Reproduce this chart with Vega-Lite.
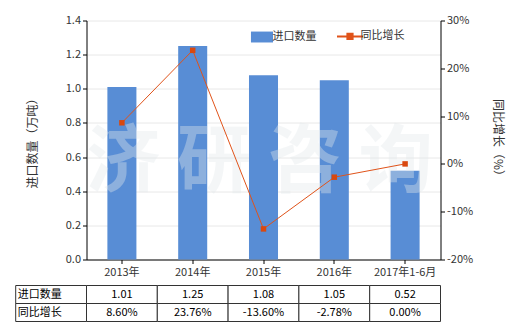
{
  "$schema": "https://vega.github.io/schema/vega-lite/v6.json",
  "padding": {"left": 14.5, "top": 14.5, "right": 5, "bottom": 5},
  "bounds": "flush",
  "spacing": 26,
  "config": {
    "font": "Noto Sans CJK SC",
    "view": {"stroke": null},
    "axis": {"labelFontSize": 11, "labelColor": "#333", "titleFontSize": 12, "titleColor": "#333", "titleFontWeight": "normal", "domainColor": "#000", "tickColor": "#000", "tickSize": 4}
  },
  "vconcat": [
    {
      "width": 354,
      "height": 239,
      "data": {"values": [
        {"year": "2013年", "qty": 1.01, "growth": 8.60},
        {"year": "2014年", "qty": 1.25, "growth": 23.76},
        {"year": "2015年", "qty": 1.08, "growth": -13.60},
        {"year": "2016年", "qty": 1.05, "growth": -2.78},
        {"year": "2017年1-6月", "qty": 0.52, "growth": 0.00}
      ]},
      "layer": [
        {
          "mark": {"type": "bar", "width": {"band": 0.41}},
          "encoding": {
            "x": {"field": "year", "type": "ordinal", "sort": null, "scale": {"paddingInner": 0, "paddingOuter": 0},
                  "axis": {"title": null, "labelAngle": 0, "labelPadding": 3, "grid": false}},
            "y": {"field": "qty", "type": "quantitative", "scale": {"domain": [0, 1.4]},
                  "axis": {"title": "进口数量（万吨）", "values": [0, 0.2, 0.4, 0.6, 0.8, 1.0, 1.2, 1.4], "format": ".1f", "grid": true, "gridColor": "#e8e8e8", "titlePadding": 26}},
            "color": {"datum": "进口数量", "type": "nominal",
              "scale": {"domain": ["进口数量", "同比增长"], "range": ["#588dd5", "#e0531a"]},
              "legend": {
                "title": null, "orient": "none", "legendX": 170, "legendY": 10, "direction": "horizontal",
                "symbolSize": 676, "labelFontSize": 11, "labelColor": "#333", "labelOffset": 5, "columnPadding": 16,
                "encode": {"symbols": {"update": {
                  "shape": {"signal": "datum.value === '进口数量' ? 'M-0.85,-0.42H0.85V0.42H-0.85Z' : 'M-1,0H1M-0.2,-0.2H0.2V0.2H-0.2Z'"},
                  "strokeWidth": {"signal": "datum.value === '进口数量' ? 0 : 2"},
                  "fill": {"signal": "datum.value === '进口数量' ? '#588dd5' : '#e0531a'"},
                  "stroke": {"signal": "datum.value === '进口数量' ? '#588dd5' : '#e0531a'"},
                  "fillOpacity": {"value": 1},
                  "opacity": {"value": 1}
                }}}
              }}
          }
        },
        {
          "encoding": {
            "x": {"field": "year", "type": "ordinal", "sort": null},
            "y": {"field": "growth", "type": "quantitative", "scale": {"domain": [-20, 30]},
                  "axis": {"orient": "right", "title": "同比增长（%）", "values": [-20, -10, 0, 10, 20, 30], "labelExpr": "datum.value + '%'", "grid": false, "titlePadding": 18}}
          },
          "layer": [
            {
              "data": {"values": [{"t": "济 研 咨 询", "pos": "2015年", "v": 0}]},
              "mark": {"type": "text", "fontSize": 74, "fontWeight": "bold", "fill": "#e3e9ec", "opacity": 0.38, "align": "center", "baseline": "middle", "dx": -4},
              "encoding": {"x": {"field": "pos", "type": "ordinal"}, "y": {"field": "v", "type": "quantitative"}, "text": {"field": "t"}}
            },
            {"mark": {"type": "line", "strokeWidth": 1}, "encoding": {"color": {"datum": "同比增长", "type": "nominal"}}},
            {"mark": {"type": "point", "shape": "square", "filled": true, "size": 30, "color": "#d9480f", "opacity": 1}}
          ]
        }
      ],
      "resolve": {"scale": {"y": "independent"}}
    },
    {
      "width": 354,
      "height": 36,
      "data": {"values": [
        {"col": "label", "row": "进口数量", "text": "进口数量"},
        {"col": "2013年", "row": "进口数量", "text": "1.01"},
        {"col": "2014年", "row": "进口数量", "text": "1.25"},
        {"col": "2015年", "row": "进口数量", "text": "1.08"},
        {"col": "2016年", "row": "进口数量", "text": "1.05"},
        {"col": "2017年1-6月", "row": "进口数量", "text": "0.52"},
        {"col": "label", "row": "同比增长", "text": "同比增长"},
        {"col": "2013年", "row": "同比增长", "text": "8.60%"},
        {"col": "2014年", "row": "同比增长", "text": "23.76%"},
        {"col": "2015年", "row": "同比增长", "text": "-13.60%"},
        {"col": "2016年", "row": "同比增长", "text": "-2.78%"},
        {"col": "2017年1-6月", "row": "同比增长", "text": "0.00%"}
      ]},
      "encoding": {
        "x": {"field": "col", "type": "ordinal", "scale": {"domain": ["label", "2013年", "2014年", "2015年", "2016年", "2017年1-6月"], "range": [-70.8, 354], "paddingInner": 0, "paddingOuter": 0}, "axis": null},
        "y": {"field": "row", "type": "ordinal", "scale": {"domain": ["进口数量", "同比增长"], "paddingInner": 0, "paddingOuter": 0}, "axis": null}
      },
      "layer": [
        {"mark": {"type": "rect", "fill": "white", "stroke": "#333", "strokeWidth": 1}},
        {"transform": [{"filter": "datum.col !== 'label'"}], "mark": {"type": "text", "fontSize": 11, "color": "#000"}, "encoding": {"text": {"field": "text"}}},
        {"transform": [{"filter": "datum.col === 'label'"}], "mark": {"type": "text", "fontSize": 11, "color": "#000", "align": "left", "dx": 2},
         "encoding": {"x": {"field": "col", "type": "ordinal", "bandPosition": 0}, "text": {"field": "text"}}}
      ]
    }
  ]
}
